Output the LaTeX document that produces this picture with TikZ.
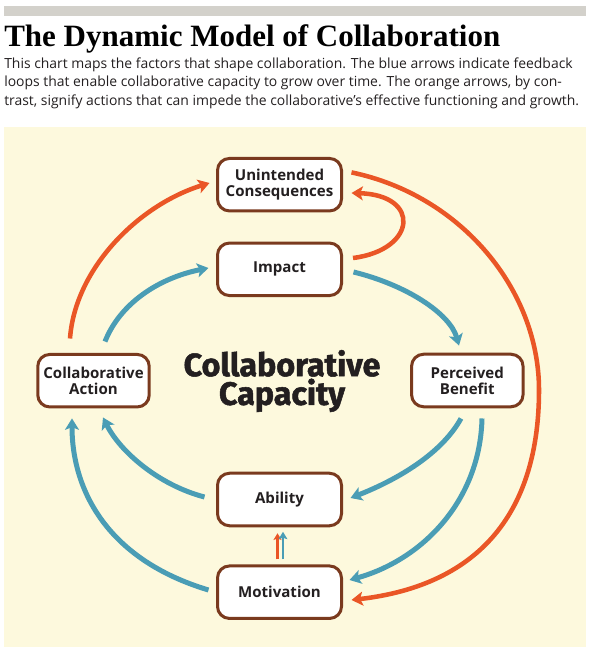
\documentclass[tikz,border=0pt]{standalone}
\usepackage{fontspec}
\setmainfont{Liberation Serif}
\newfontfamily\bodyfont{Open Sans}
\newfontfamily\boxfont{Open Sans}
\newfontfamily\hubfont{Fira Sans}[BoldFeatures={FakeBold=1.6}]
\usetikzlibrary{arrows.meta,calc}
\definecolor{bgyellow}{RGB}{253,249,221}
\definecolor{bargray}{RGB}{211,209,203}
\definecolor{boxbrown}{RGB}{122,58,30}
\definecolor{loopblue}{RGB}{74,157,181}
\definecolor{impedeorange}{RGB}{234,86,38}
\definecolor{inkgray}{RGB}{35,31,32}
\tikzset{
  factor/.style={draw=boxbrown, line width=2.25pt, fill=white, rounded corners=9pt,
    minimum width=93pt, minimum height=39.4pt, inner sep=0pt, align=center,
    text=inkgray, font=\boxfont\bfseries\fontsize{11.3}{12}\selectfont},
  sidefactor/.style={factor, minimum width=83.6pt},
  blueflow/.style={draw=loopblue, line width=3.75pt, -{Stealth[length=8.5pt,width=10.5pt,inset=2pt]}},
  orangeflow/.style={draw=impedeorange, line width=3.4pt, -{Stealth[length=8.5pt,width=10.5pt,inset=2pt]}},
  blurb/.style={anchor=base west, inner sep=0pt, text=inkgray, font=\bodyfont\fontsize{10.45}{12}\selectfont}
}
\begin{document}
\begin{tikzpicture}[x=0.75pt,y=0.75pt,yscale=-1,xscale=1]
        \useasboundingbox (0,0) rectangle (592,655);
        \fill[bargray] (4,6) rectangle (586,16);
        \fill[bgyellow] (4,127) rectangle (586,647);

        \node (title) at (4,46.7) [anchor=base west, inner sep=0pt, text=black, font=\bfseries\fontsize{23.25}{26}\selectfont] {The Dynamic Model of Collaboration};
        \node (blurb1) at (4,68.3) [blurb] {This chart maps the factors that shape collaboration. The blue arrows indicate feedback};
        \node (blurb2) at (4,86.8) [blurb] {loops that enable collaborative capacity to grow over time. The orange arrows, by con-};
        \node (blurb3) at (4,105.3) [blurb] {trast, signify actions that can impede the collaborative’s effective functioning and growth.};

        \node (conseq) at (279.5,184.7) [factor] {Unintended\\Consequences};
        \node (impact) at (279.5,269.3) [factor] {Impact};
        \node (action) at (93.5,380.7) [sidefactor] {Collaborative\\Action};
        \node (benefit) at (467.3,380.5) [sidefactor] {Perceived\\Benefit};
        \node (ability) at (279.5,499.5) [factor] {Ability};
        \node (motiv) at (279.5,592.2) [factor] {Motivation};
        \node (hub) at (282,381) [inner sep=0pt, align=center, text=inkgray, font=\hubfont\bfseries\fontsize{24.2}{21.5}\selectfont] {Collaborative\\Capacity};
        \coordinate (swing) at (539,390);

        \draw [orangeflow] ($(action.north)+(-23.5,-14.4)$) .. controls +(5,-70) and +(-71,22) .. ($(conseq.west)+(-6.5,-1.7)$);
        \draw [blueflow] ($(action.north)+(11.5,-11.4)$) .. controls +(15,-38) and +(-50,10) .. ($(impact.west)+(-7.5,-1.3)$);
        \draw [orangeflow] ($(impact.east)+(10,-11.3)$) .. controls +(63.5,-8) and +(70,2) .. ($(conseq.east)+(8.5,8.3)$);
        \draw [orangeflow] ($(conseq.east)+(8.5,-12.3)$) .. controls +(110,23) and +(0,-100) .. (swing) .. controls +(0,120) and +(130,-15) .. ($(motiv.east)+(8.5,7.8)$);
        \draw [blueflow] ($(impact.east)+(10.5,2.7)$) .. controls +(53,13) and +(-9,-32) .. ($(benefit.north)+(-8.3,-7.2)$);
        \draw [blueflow] ($(benefit.south)+(-6.3,10.2)$) .. controls +(-21,38) and +(41,-16) .. ($(ability.east)+(7.5,-1.5)$);
        \draw [blueflow] ($(benefit.south)+(14.7,10.2)$) .. controls +(-2,83) and +(72,-20) .. ($(motiv.east)+(6.5,-12.2)$);
        \draw [blueflow] ($(ability.west)+(-11.5,-2.5)$) .. controls +(-46,-12) and +(17,34) .. ($(action.south)+(9.5,9)$);
        \draw [blueflow] ($(motiv.west)+(-7.5,-2.2)$) .. controls +(-100,-30) and +(0,73) .. ($(action.south)+(-21.5,10)$);
        \draw [impedeorange, line width=1.9pt, -{Stealth[length=5pt,width=6pt,inset=1pt]}] ($(motiv.north)+(-2,-5)$) -- ($(ability.south)+(-2,6)$);
        \draw [loopblue, line width=1.9pt, -{Stealth[length=5.5pt,width=6.5pt,inset=1pt]}] ($(motiv.north)+(3.5,-5)$) -- ($(ability.south)+(3.5,4.5)$);
\end{tikzpicture}
\end{document}
